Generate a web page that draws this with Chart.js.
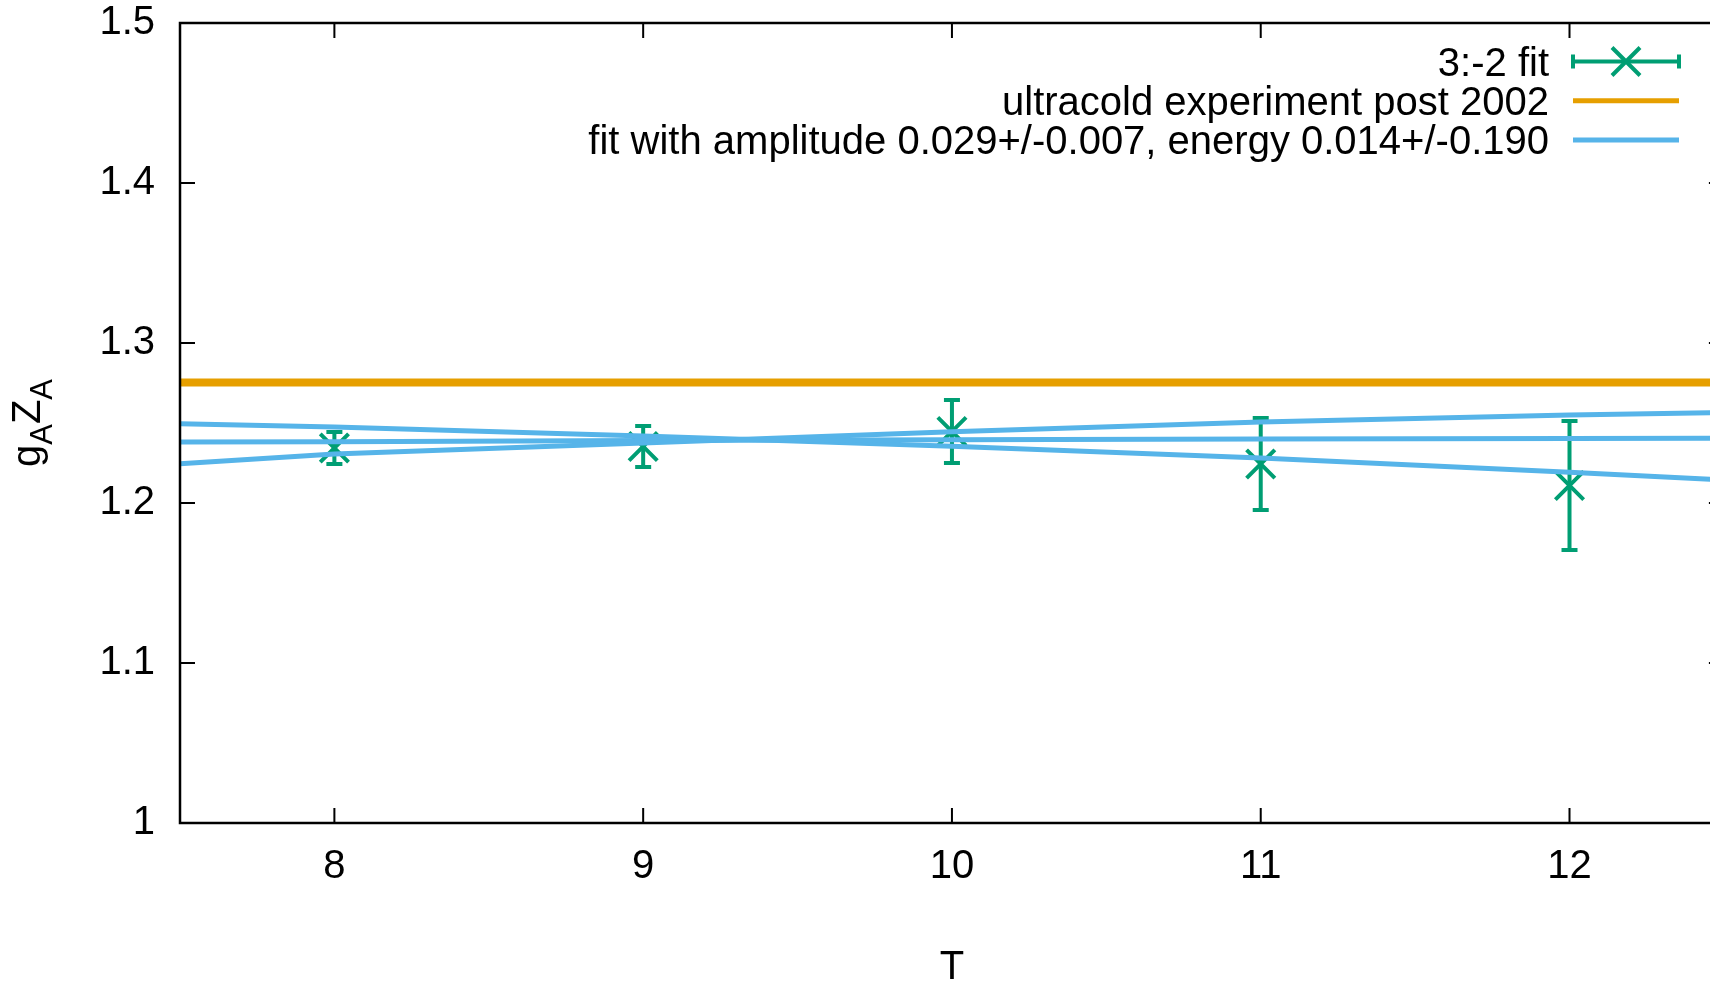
<!DOCTYPE html>
<html>
<head>
<meta charset="utf-8">
<script src="https://cdn.jsdelivr.net/npm/chart.js@4.4.1/dist/chart.umd.min.js"></script>
<style>
    html, body { margin: 0; padding: 0; background: #fff; overflow: hidden; }
    #wrap { width: 1710px; height: 985px; position: relative; }
</style>
</head>
<body>
<div id="wrap"><canvas id="MyChart1"></canvas></div>
<script>
// measured points (T, gA*ZA, error)
var T = [8, 9, 10, 11, 12];
var gA = [1.2344, 1.2353, 1.2447, 1.2244, 1.2109];
var gAErr = [0.0100, 0.0128, 0.0197, 0.0288, 0.0403];

// experiment line
var expT = [7.5, 12.5];
var expVal = [1.2753, 1.2753];

// fit curves (central and the two error curves)
var fitT = [7.5, 8, 9, 10, 11, 12, 12.5];
var fitRise = [1.2246, 1.2306, 1.2375, 1.2445, 1.2507, 1.2550, 1.2566];
var fitMid = [1.2381, 1.2383, 1.2390, 1.2396, 1.2400, 1.2403, 1.2404];
var fitFall = [1.2496, 1.2475, 1.2418, 1.2355, 1.2282, 1.2192, 1.2144];

var xTicks = [8, 9, 10, 11, 12];
var yTicks = [1, 1.1, 1.2, 1.3, 1.4, 1.5];
var legendLabels = ['3:-2 fit', 'ultracold experiment post 2002', 'fit with amplitude 0.029+/-0.007, energy 0.014+/-0.190'];

var GREEN = '#009e73';
var ORANGE = '#e69f00';
var BLUE = '#56b4e9';
var FONT = 'Liberation Sans, Arial, Helvetica, sans-serif';

function toXY(xs, ys) {
    var out = [];
    for (var i = 0; i < xs.length; i++) out.push({ x: xs[i], y: ys[i] });
    return out;
}

function drawCross(ctx, cx, cy, r) {
    ctx.beginPath();
    ctx.moveTo(cx - r, cy - r); ctx.lineTo(cx + r, cy + r);
    ctx.moveTo(cx - r, cy + r); ctx.lineTo(cx + r, cy - r);
    ctx.stroke();
}

var gnuplotLook = {
    id: 'gnuplotLook',
    beforeDatasetsDraw: function (chart) {
        // error bars under everything
        var ctx = chart.ctx, sx = chart.scales.x, sy = chart.scales.y;
        ctx.save();
        ctx.strokeStyle = GREEN;
        ctx.lineWidth = 4;
        for (var i = 0; i < T.length; i++) {
            var px = sx.getPixelForValue(T[i]);
            var top = sy.getPixelForValue(gA[i] + gAErr[i]);
            var bot = sy.getPixelForValue(gA[i] - gAErr[i]);
            ctx.beginPath();
            ctx.moveTo(px, top); ctx.lineTo(px, bot);
            ctx.moveTo(px - 8, top); ctx.lineTo(px + 8, top);
            ctx.moveTo(px - 8, bot); ctx.lineTo(px + 8, bot);
            ctx.stroke();
        }
        ctx.restore();
    },
    afterDraw: function (chart) {
        var ctx = chart.ctx, a = chart.chartArea, sx = chart.scales.x, sy = chart.scales.y;
        ctx.save();

        // frame (right side is off the picture)
        ctx.strokeStyle = '#000';
        ctx.lineWidth = 2.5;
        ctx.beginPath();
        ctx.moveTo(a.right, a.top); ctx.lineTo(a.left, a.top);
        ctx.lineTo(a.left, a.bottom); ctx.lineTo(a.right, a.bottom);
        ctx.stroke();

        // inward ticks, mirrored
        ctx.lineWidth = 2;
        ctx.beginPath();
        var xr = sx.getPixelForValue(12.5);
        yTicks.forEach(function (v) {
            var py = sy.getPixelForValue(v);
            ctx.moveTo(a.left, py); ctx.lineTo(a.left + 15, py);
            ctx.moveTo(xr, py); ctx.lineTo(xr - 15, py);
        });
        xTicks.forEach(function (v) {
            var px = sx.getPixelForValue(v);
            ctx.moveTo(px, a.bottom); ctx.lineTo(px, a.bottom - 15);
            ctx.moveTo(px, a.top); ctx.lineTo(px, a.top + 15);
        });
        ctx.stroke();

        // x title
        ctx.fillStyle = '#000';
        ctx.font = '40px ' + FONT;
        ctx.textAlign = 'center';
        ctx.textBaseline = 'alphabetic';
        ctx.fillText('T', sx.getPixelForValue(10), 979);

        // y title g_A Z_A, rotated
        var big = '40px ' + FONT, small = '31px ' + FONT;
        var parts = [['g', big, 0], ['A', small, 12], ['Z', big, 0], ['A', small, 12]];
        var w = 0;
        parts.forEach(function (p) { ctx.font = p[1]; w += ctx.measureText(p[0]).width; });
        ctx.translate(40, (a.top + a.bottom) / 2);
        ctx.rotate(-Math.PI / 2);
        ctx.textAlign = 'left';
        var u = -w / 2;
        parts.forEach(function (p) {
            ctx.font = p[1];
            ctx.fillText(p[0], u, p[2]);
            u += ctx.measureText(p[0]).width;
        });
        ctx.setTransform(1, 0, 0, 1, 0, 0);

        // legend, text on the left of the sample
        ctx.font = '40px ' + FONT;
        ctx.textAlign = 'right';
        var textRight = 1549, s0 = 1573, s1 = 1679;
        for (var i = 0; i < legendLabels.length; i++) {
            var ry = 61.5 + i * 39.3;
            ctx.fillStyle = '#000';
            ctx.fillText(legendLabels[i], textRight, ry + 14);
            ctx.beginPath();
            if (i === 0) {
                ctx.strokeStyle = GREEN;
                ctx.lineWidth = 4;
                ctx.moveTo(s0, ry); ctx.lineTo(s1, ry);
                ctx.moveTo(s0, ry - 7); ctx.lineTo(s0, ry + 7);
                ctx.moveTo(s1, ry - 7); ctx.lineTo(s1, ry + 7);
                ctx.stroke();
                drawCross(ctx, (s0 + s1) / 2, ry, 14);
            } else {
                ctx.strokeStyle = i === 1 ? ORANGE : BLUE;
                ctx.lineWidth = 5;
                ctx.moveTo(s0, ry); ctx.lineTo(s1, ry);
                ctx.stroke();
            }
        }
        ctx.restore();
    }
};

function LoadChart() {
    var ctx = document.getElementById('MyChart1').getContext('2d');
    var config = {
        type: 'scatter',
        data: {
            datasets: [
                {
                    label: legendLabels[2],
                    data: toXY(fitT, fitRise),
                    showLine: true,
                    borderColor: BLUE,
                    borderWidth: 5,
                    pointRadius: 0,
                    order: 0
                },
                {
                    label: legendLabels[2],
                    data: toXY(fitT, fitMid),
                    showLine: true,
                    borderColor: BLUE,
                    borderWidth: 5,
                    pointRadius: 0,
                    order: 0
                },
                {
                    label: legendLabels[2],
                    data: toXY(fitT, fitFall),
                    showLine: true,
                    borderColor: BLUE,
                    borderWidth: 5,
                    pointRadius: 0,
                    order: 0
                },
                {
                    label: legendLabels[1],
                    data: toXY(expT, expVal),
                    showLine: true,
                    borderColor: ORANGE,
                    borderWidth: 8,
                    pointRadius: 0,
                    order: 1
                },
                {
                    label: legendLabels[0],
                    data: toXY(T, gA),
                    showLine: false,
                    pointStyle: 'crossRot',
                    pointRadius: 20,
                    pointBorderWidth: 4,
                    borderColor: GREEN,
                    backgroundColor: GREEN,
                    order: 2
                }
            ]
        },
        options: {
            maintainAspectRatio: false,
            responsive: true,
            animation: false,
            events: [],
            layout: { autoPadding: false, padding: { top: 23, left: 0, right: 0, bottom: 0 } },
            plugins: {
                legend: { display: false },
                tooltip: { enabled: false }
            },
            scales: {
                x: {
                    type: 'linear',
                    min: 7.5,
                    max: 12.455,
                    grid: { display: false, drawTicks: false },
                    border: { display: false },
                    afterBuildTicks: function (scale) {
                        scale.ticks = xTicks.map(function (v) { return { value: v }; });
                    },
                    afterFit: function (scale) {
                        scale.height = 162;
                        scale.paddingLeft = 0;
                        scale.paddingRight = 0;
                    },
                    ticks: {
                        color: '#000',
                        padding: 20,
                        maxRotation: 0,
                        font: { family: FONT, size: 40 },
                        callback: function (v) { return String(v); }
                    }
                },
                y: {
                    min: 1,
                    max: 1.5,
                    grid: { display: false, drawTicks: false },
                    border: { display: false },
                    afterBuildTicks: function (scale) {
                        scale.ticks = yTicks.map(function (v) { return { value: v }; });
                    },
                    afterFit: function (scale) {
                        scale.width = 180;
                        scale.paddingTop = 0;
                        scale.paddingBottom = 0;
                    },
                    ticks: {
                        color: '#000',
                        padding: 25,
                        font: { family: FONT, size: 40 },
                        callback: function (v) { return String(+v.toFixed(1)); }
                    }
                }
            }
        },
        plugins: [gnuplotLook]
    };
    window.bar = new Chart(ctx, config);
}

LoadChart();
</script>
</body>
</html>
